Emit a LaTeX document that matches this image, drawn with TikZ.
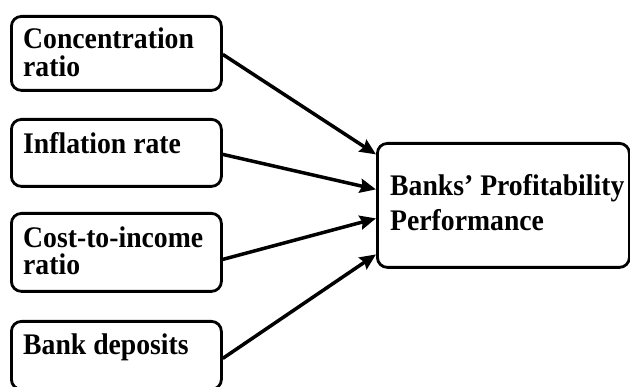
\documentclass[tikz,border=0pt]{standalone}
\usepackage{fontspec}
\setmainfont{Liberation Serif}
\usetikzlibrary{arrows.meta}
\newcommand\talltxt[1]{\scalebox{1}[1.08]{#1}}
\begin{document}
\begin{tikzpicture}[x=1pt,y=-1pt,
  box/.style={draw, line width=2.8pt, rounded corners=10pt, inner sep=0pt, anchor=north west},
  txt/.style={anchor=base west, inner sep=0pt, font=\fontsize{27.7}{28}\selectfont\bfseries},
  arr/.style={line width=3.5pt, -{Stealth[length=16pt,width=14pt,inset=2pt]}}]
\useasboundingbox (0,0) rectangle (630,387);
\begin{scope}
\clip (0,0) rectangle (630,387);
\node[box, minimum width=210pt, minimum height=74pt] (c1) at (10,15) {};
\node[box, minimum width=210pt, minimum height=67pt] (c2) at (10,118) {};
\node[box, minimum width=210pt, minimum height=78pt] (c3) at (10,212) {};
\node[box, minimum width=210pt, minimum height=68pt] (c4) at (10,320) {};
\node[box, minimum width=252pt, minimum height=124pt] (p) at (376,142) {};
\end{scope}
\node[txt] (t1a) at (23,49) {\talltxt{Concentration}};
\node[txt] (t1b) at (23,77) {\talltxt{ratio}};
\node[txt] (t2) at (23,154) {\talltxt{Inflation rate}};
\node[txt] (t3a) at (23,248) {\talltxt{Cost-to-income}};
\node[txt] (t3b) at (23,275) {\talltxt{ratio}};
\node[txt] (t4) at (23,355) {\talltxt{Bank deposits}};
\node[txt] (pa) at (390,196) {\talltxt{Banks’ Profitability}};
\node[txt] (pb) at (390,231) {\talltxt{Performance}};
\draw[arr] ([yshift=-1pt]c1.east) -- ([yshift=51pt]p.west);
\draw[arr] ([yshift=-1.5pt]c2.east) -- ([yshift=16pt]p.west);
\draw[arr] ([yshift=-7pt]c3.east) -- ([yshift=-13pt]p.west);
\draw[arr] ([yshift=-3pt]c4.east) -- ([yshift=-49pt]p.west);
\end{tikzpicture}
\end{document}
